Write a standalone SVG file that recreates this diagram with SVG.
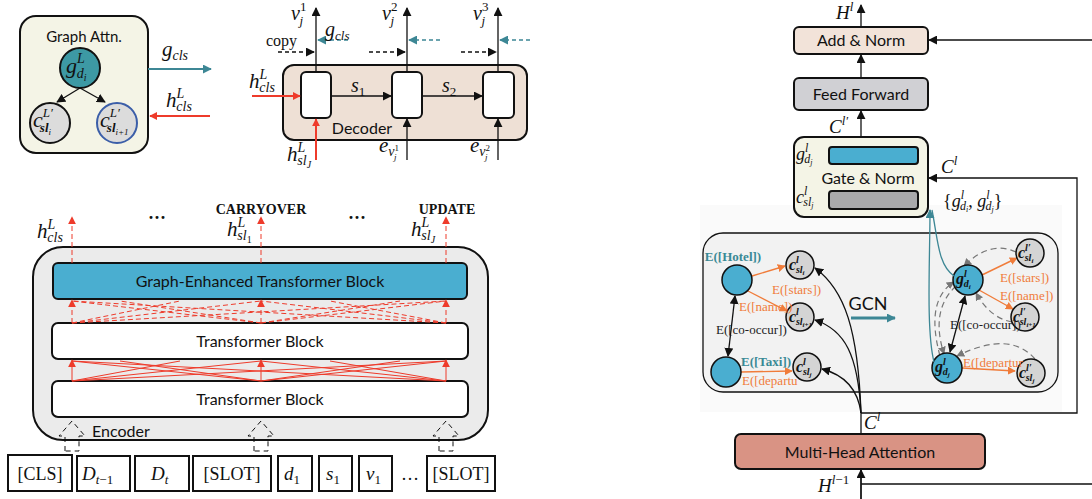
<svg xmlns="http://www.w3.org/2000/svg" width="1092" height="499" viewBox="0 0 1092 499">
<defs>
<style>
.s{font-family:Lato,"Liberation Sans",sans-serif;fill:#111}
.m{font-family:"Liberation Serif","DejaVu Serif",serif;font-style:italic;fill:#111}
.r{font-family:"Liberation Serif","DejaVu Serif",serif;fill:#111}
.n{font-style:normal}
.bx{stroke:#111;stroke-width:2}
.ln{fill:none;stroke:#111;stroke-width:1.3}
.red{fill:none;stroke:#ee3b2b;stroke-width:1}
.redd{fill:none;stroke:#ee3b2b;stroke-width:1;stroke-dasharray:5 3}
.org{fill:none;stroke:#f07c3a;stroke-width:1.4}
.ot{font-family:"Liberation Serif",serif;fill:#f07c3a;font-size:13px}
.tt{font-family:"Liberation Serif",serif;fill:#3a8a96;font-size:13px;font-weight:bold}
.bt{font-family:"Liberation Serif",serif;fill:#222;font-size:13px}
.gd{fill:none;stroke:#777;stroke-width:1.2;stroke-dasharray:6 4}
.teal{fill:none;stroke:#3d8795;stroke-width:1.3}
.blue{fill:#4aaed0;stroke:#111;stroke-width:1.5}
.gray{fill:#d4d4d4;stroke:#111;stroke-width:1.5}
</style>
<marker id="ab" viewBox="0 0 10 10" refX="9" refY="5" markerWidth="9" markerHeight="9" markerUnits="userSpaceOnUse" orient="auto-start-reverse"><path d="M0,0 L10,5 L0,10 z" fill="#111"/></marker>
<marker id="ar" viewBox="0 0 10 10" refX="9" refY="5" markerWidth="8" markerHeight="8" markerUnits="userSpaceOnUse" orient="auto"><path d="M0,0 L10,5 L0,10 z" fill="#ee3b2b"/></marker>
<marker id="at" viewBox="0 0 10 10" refX="9" refY="5" markerWidth="9" markerHeight="9" markerUnits="userSpaceOnUse" orient="auto"><path d="M0,0 L10,5 L0,10 z" fill="#3d8795"/></marker>
<marker id="ag" viewBox="0 0 10 10" refX="9" refY="5" markerWidth="8" markerHeight="8" markerUnits="userSpaceOnUse" orient="auto"><path d="M0,0 L10,5 L0,10 z" fill="#777"/></marker>
<marker id="ao" viewBox="0 0 10 10" refX="9" refY="5" markerWidth="8" markerHeight="8" markerUnits="userSpaceOnUse" orient="auto"><path d="M0,0 L10,5 L0,10 z" fill="#f07c3a"/></marker>
</defs>
<rect width="1092" height="499" fill="#fff"/>

<!-- Graph Attn -->
<g id="graph-attn">
<rect x="20" y="16" width="128" height="137" rx="16" fill="#f4f4e6" class="bx"/>
<text x="84" y="42" class="s" font-size="15" text-anchor="middle">Graph Attn.</text>
<circle cx="80" cy="68" r="20" fill="#3d99a4" stroke="#111" stroke-width="2"/>
<text x="66" y="73" class="m" font-size="22">g<tspan font-size="14" dy="-10">L</tspan><tspan font-size="14" dx="-8" dy="15">d</tspan><tspan font-size="10" dy="3">i</tspan></text>
<circle cx="50" cy="123" r="20" fill="#dcdcdc" stroke="#111" stroke-width="2"/>
<text x="33" y="127" class="m" font-size="22">c<tspan font-size="13" dy="-10">L′</tspan><tspan font-size="13" dx="-13" dy="15" font-weight="bold">sl</tspan><tspan font-size="9" dy="3">i</tspan></text>
<circle cx="117" cy="123" r="20" fill="#dcdcdc" stroke="#3b5ea8" stroke-width="2"/>
<text x="100" y="127" class="m" font-size="22">c<tspan font-size="13" dy="-10">L′</tspan><tspan font-size="13" dx="-13" dy="15" font-weight="bold">sl</tspan><tspan font-size="9" dy="3">i+1</tspan></text>
<path d="M80,88 L57,102" class="ln" stroke-width="1.8" marker-end="url(#ab)"/>
<path d="M80,88 L105,102" class="ln" stroke-width="1.8" marker-end="url(#ab)"/>
</g>
<g id="ga-io">
<path d="M148,69 L211,69" fill="none" stroke="#3d8795" stroke-width="2" marker-end="url(#at)"/>
<text x="162" y="56" class="m" font-size="21">g<tspan font-size="14" dy="4">cls</tspan></text>
<path d="M210,116 L150,116" fill="none" stroke="#ee3b2b" stroke-width="2" marker-end="url(#ar)"/>
<text x="166" y="107" class="m" font-size="21">h<tspan font-size="14" dy="-9">L</tspan><tspan font-size="14" dx="-8" dy="13">cls</tspan></text>
</g>

<!-- Decoder -->
<g id="decoder">
<rect x="283" y="65" width="244" height="75" rx="11" fill="#eee0d5" class="bx"/>
<rect x="301" y="72" width="30" height="46" rx="5" fill="#fff" class="bx"/>
<rect x="392" y="72" width="30" height="46" rx="5" fill="#fff" class="bx"/>
<rect x="483" y="72" width="31" height="46" rx="5" fill="#fff" class="bx"/>
<text x="362" y="134" class="s" font-size="16" text-anchor="middle">Decoder</text>
</g>
<g id="decoder-connectors">
<path d="M316,72 L316,8" class="ln" marker-end="url(#ab)"/>
<path d="M407,72 L407,8" class="ln" marker-end="url(#ab)"/>
<path d="M498,72 L498,8" class="ln" marker-end="url(#ab)"/>
<path d="M331,96 L391,96" class="ln" marker-end="url(#ab)"/>
<path d="M422,96 L482,96" class="ln" marker-end="url(#ab)"/>
<path d="M278,52 L314,52" class="ln" stroke-dasharray="4 3" marker-end="url(#ab)"/>
<path d="M369,52 L405,52" class="ln" stroke-dasharray="4 3" marker-end="url(#ab)"/>
<path d="M461,52 L496,52" class="ln" stroke-dasharray="4 3" marker-end="url(#ab)"/>
<path d="M348,40 L318,40" fill="none" stroke="#3d8795" stroke-width="1.3" stroke-dasharray="4 3" marker-end="url(#at)"/>
<path d="M440,40 L409,40" fill="none" stroke="#3d8795" stroke-width="1.3" stroke-dasharray="4 3" marker-end="url(#at)"/>
<path d="M530,40 L500,40" fill="none" stroke="#3d8795" stroke-width="1.3" stroke-dasharray="4 3" marker-end="url(#at)"/>
<path d="M252,96 L300,96" fill="none" stroke="#ee3b2b" stroke-width="2" marker-end="url(#ar)"/>
<path d="M316,160 L316,119" fill="none" stroke="#ee3b2b" stroke-width="2" marker-end="url(#ar)"/>
<path d="M407,160 L407,119" class="ln" marker-end="url(#ab)"/>
<path d="M498,160 L498,119" class="ln" marker-end="url(#ab)"/>
<text x="291" y="20" class="m" font-size="20">v<tspan font-size="13" dy="-9" class="n">1</tspan><tspan font-size="13" dx="-7" dy="14">j</tspan></text>
<text x="382" y="20" class="m" font-size="20">v<tspan font-size="13" dy="-9" class="n">2</tspan><tspan font-size="13" dx="-7" dy="14">j</tspan></text>
<text x="473" y="20" class="m" font-size="20">v<tspan font-size="13" dy="-9" class="n">3</tspan><tspan font-size="13" dx="-7" dy="14">j</tspan></text>
<text x="266" y="46" class="r" font-size="16">copy</text>
<text x="325" y="36" class="m" font-size="20">g<tspan font-size="13" dy="4">cls</tspan></text>
<text x="351" y="92" class="m" font-size="20">s<tspan font-size="13" dy="4" class="n">1</tspan></text>
<text x="442" y="92" class="m" font-size="20">s<tspan font-size="13" dy="4" class="n">2</tspan></text>
<text x="249" y="88" class="m" font-size="21">h<tspan font-size="14" dy="-9">L</tspan><tspan font-size="14" dx="-8" dy="13">cls</tspan></text>
<text x="287" y="161" class="m" font-size="21">h<tspan font-size="14" dy="-9">L</tspan><tspan font-size="14" dx="-8" dy="13">sl</tspan><tspan font-size="10" dy="3">J</tspan></text>
<text x="379" y="152" class="m" font-size="21">e<tspan font-size="14" dy="4">v</tspan><tspan font-size="9" dy="-5" class="n">1</tspan><tspan font-size="9" dx="-5" dy="9">j</tspan></text>
<text x="470" y="152" class="m" font-size="21">e<tspan font-size="14" dy="4">v</tspan><tspan font-size="9" dy="-5" class="n">2</tspan><tspan font-size="9" dx="-5" dy="9">j</tspan></text>
</g>

<!-- Encoder -->
<g id="encoder">
<rect x="33" y="247" width="455" height="193" rx="30" fill="#ebebeb" class="bx"/>
<text x="92" y="437" class="s" font-size="16">Encoder</text>
</g>
<g id="ge-block">
<rect x="53" y="263" width="414" height="36" rx="5" fill="#4aaed0" class="bx"/>
<text x="260" y="287" class="s" font-size="16" text-anchor="middle">Graph-Enhanced Transformer Block</text>
</g>
<g id="tb-upper">
<rect x="52" y="323" width="416" height="36" rx="6" fill="#fff" class="bx"/>
<text x="260" y="347" class="s" font-size="16" text-anchor="middle">Transformer Block</text>
</g>
<g id="tb-lower">
<rect x="52" y="381" width="416" height="36" rx="6" fill="#fff" class="bx"/>
<text x="260" y="405" class="s" font-size="16" text-anchor="middle">Transformer Block</text>
</g>
<g id="encoder-connectors">
<path d="M72,381 L261,361 M72,381 L446,361 M261,381 L72,361 M261,381 L446,361 M446,381 L72,361 M446,381 L261,361 M72,381 L180,361 M261,381 L120,361 M261,381 L400,361 M446,381 L330,361" class="red"/>
<path d="M72,381 L72,360" class="red" marker-end="url(#ar)"/>
<path d="M261,381 L261,360" class="red" marker-end="url(#ar)"/>
<path d="M446,381 L446,360" class="red" marker-end="url(#ar)"/>
<path d="M72,323 L261,301 M72,323 L446,301 M261,323 L72,301 M261,323 L446,301 M446,323 L72,301 M446,323 L261,301 M72,323 L180,301 M261,323 L120,301 M261,323 L400,301 M446,323 L330,301" class="redd"/>
<path d="M72,323 L72,300" class="redd" marker-end="url(#ar)"/>
<path d="M261,323 L261,300" class="redd" marker-end="url(#ar)"/>
<path d="M446,323 L446,300" class="redd" marker-end="url(#ar)"/>
<path d="M72,263 L72,217" class="redd" marker-end="url(#ar)"/>
<path d="M261,263 L261,217" class="redd" marker-end="url(#ar)"/>
<path d="M446,263 L446,217" class="redd" marker-end="url(#ar)"/>
<path d="M65,451 L65,436 L59,436 L72,421 L85,436 L79,436 L79,451 Z" fill="none" stroke="#111" stroke-width="1" stroke-dasharray="5 4"/>
<path d="M254,451 L254,436 L248,436 L261,421 L274,436 L268,436 L268,451 Z" fill="none" stroke="#111" stroke-width="1" stroke-dasharray="5 4"/>
<path d="M439,451 L439,436 L433,436 L446,421 L459,436 L453,436 L453,451 Z" fill="none" stroke="#111" stroke-width="1" stroke-dasharray="5 4"/>
</g>
<g id="encoder-labels">
<text x="37" y="238" class="m" font-size="21">h<tspan font-size="14" dy="-9">L</tspan><tspan font-size="14" dx="-8" dy="13">cls</tspan></text>
<text x="157" y="224" class="r" font-size="18" text-anchor="middle" font-weight="bold">···</text>
<text x="261" y="214" class="r" font-size="14" font-weight="bold" text-anchor="middle">CARRYOVER</text>
<text x="227" y="236" class="m" font-size="21">h<tspan font-size="14" dy="-9">L</tspan><tspan font-size="14" dx="-8" dy="13">sl</tspan><tspan font-size="10" dy="3" class="n">1</tspan></text>
<text x="357" y="224" class="r" font-size="18" text-anchor="middle" font-weight="bold">···</text>
<text x="447" y="214" class="r" font-size="14" font-weight="bold" text-anchor="middle">UPDATE</text>
<text x="411" y="236" class="m" font-size="21">h<tspan font-size="14" dy="-9">L</tspan><tspan font-size="14" dx="-8" dy="13">sl</tspan><tspan font-size="10" dy="3">J</tspan></text>
</g>

<!-- Tokens -->
<g id="tokens">
<rect x="8" y="455" width="64" height="36" fill="#fff" class="bx"/>
<text x="40" y="480" class="r" font-size="18" text-anchor="middle">[CLS]</text>
<rect x="77" y="456" width="53" height="35" fill="#fff" class="bx"/>
<text x="82" y="480" class="m" font-size="19">D<tspan font-size="13" dy="4">t<tspan class="n">−1</tspan></tspan></text>
<rect x="135" y="456" width="54" height="35" fill="#fff" class="bx"/>
<text x="151" y="480" class="m" font-size="19">D<tspan font-size="13" dy="4">t</tspan></text>
<rect x="193" y="456" width="78" height="35" fill="#fff" class="bx"/>
<text x="232" y="480" class="r" font-size="18" text-anchor="middle">[SLOT]</text>
<rect x="278" y="456" width="34" height="35" fill="#fff" class="bx"/>
<text x="284" y="480" class="m" font-size="19">d<tspan font-size="13" dy="4" class="n">1</tspan></text>
<rect x="319" y="456" width="33" height="35" fill="#fff" class="bx"/>
<text x="326" y="480" class="m" font-size="19">s<tspan font-size="13" dy="4" class="n">1</tspan></text>
<rect x="359" y="456" width="33" height="35" fill="#fff" class="bx"/>
<text x="366" y="480" class="m" font-size="19">v<tspan font-size="13" dy="4" class="n">1</tspan></text>
<text x="410" y="480" class="r" font-size="18" text-anchor="middle">…</text>
<rect x="427" y="456" width="68" height="35" fill="#fff" class="bx"/>
<text x="461" y="480" class="r" font-size="18" text-anchor="middle">[SLOT]</text>
</g>

<!-- Graph image -->
<g id="gcn-panel">
<rect x="700" y="205" width="362" height="207" fill="#fafafa"/>
<rect x="703" y="233" width="355" height="159" rx="20" fill="#f2f2f2" stroke="#111" stroke-width="1.3"/>
<path d="M851,318 L895,318" fill="none" stroke="#3d8795" stroke-width="3" marker-end="url(#at)"/>
<text x="868" y="310" class="s" font-size="18" text-anchor="middle">GCN</text>
</g>

<!-- Right: layer -->
<g id="add-norm">
<rect x="794" y="27" width="134" height="27" rx="5" fill="#f2e3d9" class="bx"/>
<text x="861" y="46" class="s" font-size="16" text-anchor="middle">Add &amp; Norm</text>
</g>
<g id="feed-forward">
<rect x="794" y="78" width="134" height="32" rx="5" fill="#d0d0d4" class="bx"/>
<text x="861" y="100" class="s" font-size="16" text-anchor="middle">Feed Forward</text>
</g>
<g id="gate-norm">
<rect x="794" y="137" width="134" height="80" rx="10" fill="#f4f4e6" class="bx"/>
<rect x="829" y="147" width="89" height="17" rx="3" fill="#4aaed0" class="bx"/>
<rect x="829" y="191" width="89" height="18" rx="3" fill="#a9a9ab" class="bx"/>
<text x="868" y="184" class="s" font-size="16" text-anchor="middle">Gate &amp; Norm</text>
<text x="796" y="160" class="m" font-size="18">g<tspan font-size="12" dy="-8">l</tspan><tspan font-size="12" dx="-4" dy="11">d</tspan><tspan font-size="8" dy="2">j</tspan></text>
<text x="796" y="203" class="m" font-size="18">c<tspan font-size="12" dy="-8">l</tspan><tspan font-size="12" dx="-4" dy="11">sl</tspan><tspan font-size="8" dy="2">j</tspan></text>
</g>
<g id="mha">
<rect x="735" y="434" width="250" height="35" rx="6" fill="#d99384" class="bx"/>
<text x="860" y="458" class="s" font-size="16" text-anchor="middle">Multi-Head Attention</text>
</g>

<g id="graph-before-edges">
<path d="M752,276 L785,266" class="org" marker-end="url(#ao)"/>
<path d="M748,291 L787,311" class="org" marker-end="url(#ao)"/>
<path d="M741,372 L792,371" class="org" marker-end="url(#ao)"/>
<path d="M735,296 L728,356" class="ln" marker-start="url(#ab)" marker-end="url(#ab)"/>
</g>
<g id="graph-before-nodes">
<circle cx="737" cy="280" r="15" class="blue"/>
<circle cx="726" cy="372" r="15" class="blue"/>
<circle cx="800" cy="265" r="14" class="gray"/>
<text x="789" y="270" class="m" font-size="16" font-weight="bold">c<tspan font-size="10" dy="-7">l</tspan><tspan font-size="10" dx="-3" dy="10">sl</tspan><tspan font-size="7" dy="2">i</tspan></text>
<circle cx="800" cy="317" r="14" class="gray"/>
<text x="789" y="322" class="m" font-size="16" font-weight="bold">c<tspan font-size="10" dy="-7">l</tspan><tspan font-size="10" dx="-3" dy="10">sl</tspan><tspan font-size="7" dy="2">i+1</tspan></text>
<circle cx="807" cy="367" r="14" class="gray"/>
<text x="796" y="372" class="m" font-size="16" font-weight="bold">c<tspan font-size="10" dy="-7">l</tspan><tspan font-size="10" dx="-3" dy="10">sl</tspan><tspan font-size="7" dy="2">j</tspan></text>
<text x="733" y="261" class="tt" font-size="14" text-anchor="middle">E([Hotel])</text>
<text x="741" y="366" class="tt" font-size="14">E([Taxi])</text>
<text x="772" y="294" class="ot">E([stars])</text>
<text x="739" y="311" class="ot">E([name])</text>
<text x="716" y="334" class="bt">E([co-occur])</text>
<text x="742" y="385" class="ot">E([departu</text>
</g>
<g id="graph-after-edges">
<path d="M1016,252 Q990,240 964,266" class="gd" marker-end="url(#ag)"/>
<path d="M1012,322 Q990,318 976,293" class="gd" marker-end="url(#ag)"/>
<path d="M1035,359 Q1010,330 957,356" class="gd" marker-end="url(#ag)"/>
<path d="M956,286 Q930,310 944,354" class="gd" marker-end="url(#ag)"/>
<path d="M940,356 Q925,300 954,282" class="gd" marker-end="url(#ag)"/>
<path d="M982,275 L1017,258" class="org" marker-end="url(#ao)"/>
<path d="M979,290 L1013,309" class="org" marker-end="url(#ao)"/>
<path d="M962,368 L1015,371" class="org" marker-end="url(#ao)"/>
<path d="M965,296 L950,352" class="ln" marker-start="url(#ab)" marker-end="url(#ab)"/>
</g>
<g id="graph-after-nodes">
<circle cx="968" cy="280" r="15" class="blue"/>
<text x="956" y="284" class="m" font-size="16" font-weight="bold">g<tspan font-size="10" dy="-7">l</tspan><tspan font-size="10" dx="-3" dy="10">d</tspan><tspan font-size="7" dy="2">i</tspan></text>
<circle cx="947" cy="368" r="15" class="blue"/>
<text x="935" y="372" class="m" font-size="16" font-weight="bold">g<tspan font-size="10" dy="-7">l</tspan><tspan font-size="10" dx="-3" dy="10">d</tspan><tspan font-size="7" dy="2">j</tspan></text>
<circle cx="1030" cy="253" r="14" class="gray"/>
<text x="1018" y="258" class="m" font-size="16" font-weight="bold">c<tspan font-size="10" dy="-7">l′</tspan><tspan font-size="10" dx="-6" dy="10">sl</tspan><tspan font-size="7" dy="2">i</tspan></text>
<circle cx="1025" cy="317" r="14" class="gray"/>
<text x="1013" y="322" class="m" font-size="16" font-weight="bold">c<tspan font-size="10" dy="-7">l′</tspan><tspan font-size="10" dx="-6" dy="10">sl</tspan><tspan font-size="7" dy="2">i+1</tspan></text>
<circle cx="1031" cy="373" r="14" class="gray"/>
<text x="1019" y="378" class="m" font-size="16" font-weight="bold">c<tspan font-size="10" dy="-7">l′</tspan><tspan font-size="10" dx="-6" dy="10">sl</tspan><tspan font-size="7" dy="2">j</tspan></text>
<text x="1000" y="282" class="ot" font-size="14">E([stars])</text>
<text x="1000" y="300" class="ot" font-size="14">E([name])</text>
<text x="950" y="329" class="bt" font-size="14">E([co-occur])</text>
<text x="963" y="367" class="ot" font-size="14">E([departur</text>
</g>

<g id="layer-connectors">
<path d="M861,469 L861,499 M861,484 L1092,484" class="ln"/>
<path d="M861,499 L861,470" class="ln" marker-end="url(#ab)"/>
<path d="M861,434 L861,413 L1077,413 L1077,178 L929,178" class="ln" marker-end="url(#ab)"/>
<path d="M1092,40 L929,40" class="ln" marker-end="url(#ab)"/>
<path d="M861,27 L861,5" class="ln" marker-end="url(#ab)"/>
<path d="M861,78 L861,55" class="ln" marker-end="url(#ab)"/>
<path d="M861,137 L861,111" class="ln" marker-end="url(#ab)"/>
<path d="M861,413 C858,330 845,290 815,268" class="ln" stroke-width="1.1" marker-end="url(#ab)"/>
<path d="M861,413 C858,355 845,330 815,320" class="ln" stroke-width="1.1" marker-end="url(#ab)"/>
<path d="M861,413 C858,390 845,375 822,369" class="ln" stroke-width="1.1" marker-end="url(#ab)"/>
<path d="M934,362 C926,330 930,260 930,210" class="teal" marker-end="url(#at)"/>
<path d="M954,276 C938,265 938,240 932,210" class="teal"/>
<text x="836" y="19" class="m" font-size="19">H<tspan font-size="13" dy="-8">l</tspan></text>
<text x="829" y="133" class="m" font-size="19">C<tspan font-size="13" dy="-8">l′</tspan></text>
<text x="941" y="173" class="m" font-size="19">C<tspan font-size="13" dy="-8">l</tspan></text>
<text x="943" y="207" class="m" font-size="18"><tspan class="n">{</tspan>g<tspan font-size="12" dy="-8">l</tspan><tspan font-size="12" dx="-4" dy="11">d</tspan><tspan font-size="8" dy="2">i</tspan><tspan class="n" dy="-5">, </tspan>g<tspan font-size="12" dy="-8">l</tspan><tspan font-size="12" dx="-4" dy="11">d</tspan><tspan font-size="8" dy="2">j</tspan><tspan class="n" dy="-5">}</tspan></text>
<text x="864" y="429" class="m" font-size="19">C<tspan font-size="13" dy="-8">l</tspan></text>
<text x="818" y="492" class="m" font-size="19">H<tspan font-size="13" dy="-8">l<tspan class="n">−1</tspan></tspan></text>
</g>
</svg>
